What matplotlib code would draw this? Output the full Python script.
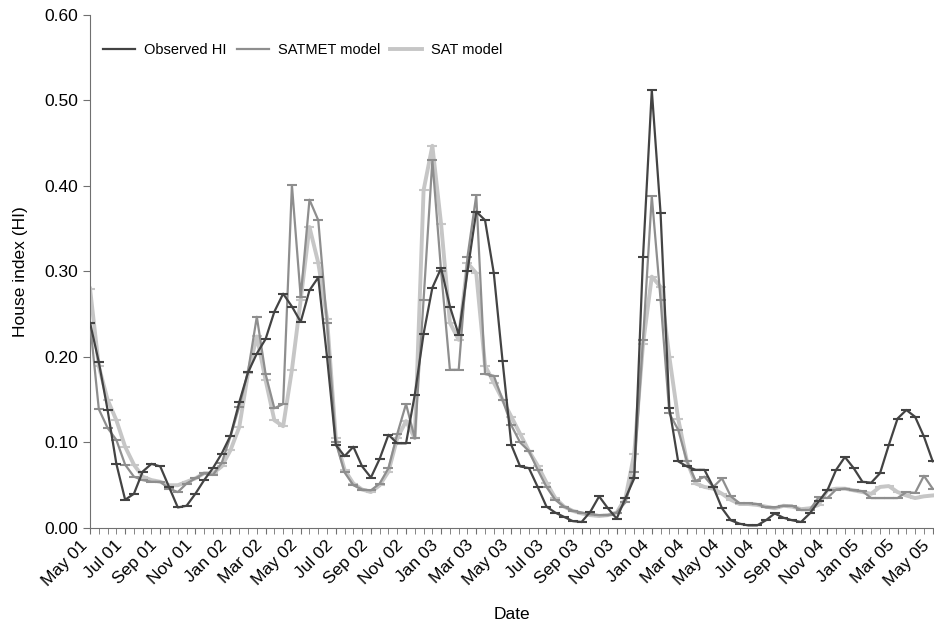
import numpy as np
import matplotlib.pyplot as plt

plt.rcParams['font.family'] = ['Liberation Sans', 'DejaVu Sans']

# tick labels, one every 4 half-month steps
date_labels = ['May 01', 'Jul 01', 'Sep 01', 'Nov 01', 'Jan 02', 'Mar 02', 'May 02',
               'Jul 02', 'Sep 02', 'Nov 02', 'Jan 03', 'Mar 03', 'May 03', 'Jul 03',
               'Sep 03', 'Nov 03', 'Jan 04', 'Mar 04', 'May 04', 'Jul 04', 'Sep 04',
               'Nov 04', 'Jan 05', 'Mar 05', 'May 05']

# semi-monthly values, May 01 .. May 05
observed = [0.240, 0.194, 0.138, 0.075, 0.033, 0.040, 0.066, 0.075, 0.072, 0.048,
            0.024, 0.026, 0.040, 0.056, 0.070, 0.087, 0.108, 0.147, 0.182, 0.204,
            0.221, 0.253, 0.274, 0.259, 0.241, 0.278, 0.293, 0.200, 0.097, 0.084,
            0.095, 0.072, 0.059, 0.081, 0.109, 0.099, 0.099, 0.156, 0.227, 0.281,
            0.304, 0.259, 0.226, 0.300, 0.370, 0.360, 0.298, 0.195, 0.097, 0.072,
            0.070, 0.048, 0.025, 0.018, 0.013, 0.008, 0.007, 0.019, 0.037, 0.023,
            0.011, 0.035, 0.058, 0.317, 0.512, 0.368, 0.140, 0.078, 0.072, 0.068,
            0.068, 0.048, 0.023, 0.009, 0.005, 0.003, 0.003, 0.009, 0.017, 0.012,
            0.009, 0.007, 0.017, 0.031, 0.044, 0.068, 0.083, 0.070, 0.054, 0.053,
            0.064, 0.097, 0.128, 0.138, 0.130, 0.107, 0.078]

satmet = [0.240, 0.139, 0.117, 0.103, 0.074, 0.060, 0.056, 0.054, 0.054, 0.046,
          0.042, 0.052, 0.058, 0.064, 0.062, 0.076, 0.107, 0.142, 0.183, 0.247,
          0.180, 0.140, 0.145, 0.401, 0.270, 0.384, 0.360, 0.240, 0.100, 0.065,
          0.050, 0.045, 0.044, 0.052, 0.070, 0.110, 0.145, 0.105, 0.267, 0.430,
          0.300, 0.185, 0.185, 0.317, 0.389, 0.180, 0.178, 0.150, 0.120, 0.100,
          0.090, 0.068, 0.048, 0.033, 0.025, 0.020, 0.018, 0.016, 0.015, 0.015,
          0.018, 0.030, 0.065, 0.220, 0.388, 0.267, 0.134, 0.115, 0.078, 0.055,
          0.060, 0.048, 0.058, 0.037, 0.029, 0.029, 0.028, 0.024, 0.024, 0.026,
          0.026, 0.021, 0.021, 0.036, 0.035, 0.045, 0.046, 0.044, 0.043, 0.035,
          0.035, 0.035, 0.035, 0.042, 0.041, 0.061, 0.046]

sat = [0.280, 0.189, 0.150, 0.126, 0.095, 0.074, 0.060, 0.056, 0.054, 0.050,
       0.050, 0.054, 0.058, 0.064, 0.064, 0.072, 0.091, 0.118, 0.181, 0.224,
       0.173, 0.126, 0.119, 0.185, 0.267, 0.352, 0.310, 0.245, 0.105, 0.068,
       0.052, 0.045, 0.042, 0.050, 0.066, 0.105, 0.125, 0.105, 0.395, 0.447,
       0.355, 0.240, 0.220, 0.310, 0.298, 0.190, 0.170, 0.150, 0.130, 0.110,
       0.090, 0.073, 0.053, 0.035, 0.025, 0.020, 0.017, 0.015, 0.014, 0.015,
       0.018, 0.035, 0.087, 0.215, 0.294, 0.282, 0.200, 0.128, 0.078, 0.052,
       0.048, 0.046, 0.040, 0.033, 0.028, 0.028, 0.027, 0.025, 0.023, 0.026,
       0.025, 0.022, 0.023, 0.027, 0.044, 0.046, 0.046, 0.044, 0.042, 0.040,
       0.048, 0.049, 0.042, 0.038, 0.035, 0.037, 0.038]

x = np.arange(len(observed))

fig = plt.figure(figsize=(9.34, 6.29), dpi=100)
ax = fig.add_axes([0.0964, 0.1606, 0.9036, 0.8156])

ax.plot(x, sat, color='#c6c6c6', lw=2.8, marker='_', ms=7, mew=1.5,
        label='SAT model', zorder=2)
ax.plot(x, satmet, color='#8e8e8e', lw=1.6, marker='_', ms=7, mew=1.5,
        label='SATMET model', zorder=3)
ax.plot(x, observed, color='#434343', lw=1.6, marker='_', ms=7, mew=1.5,
        label='Observed HI', zorder=4)

ax.set_xlim(0, 96.15)
ax.set_ylim(0, 0.6)
ax.set_yticks(np.arange(0, 0.61, 0.1))
ax.set_yticklabels([f'{v:.2f}' for v in np.arange(0, 0.61, 0.1)], fontsize=12.5)
ax.set_xticks(np.arange(0, 97, 4))
ax.set_xticks(np.arange(0, 97, 1), minor=True)
# anchoring on the bottom-right corner pulls the rotated labels left of their tick
ax.set_xticklabels(date_labels, rotation=45, ha='right', va='bottom',
                   rotation_mode='anchor', fontsize=12.5)
ax.tick_params(axis='x', which='major', pad=10)
ax.tick_params(axis='x', which='both', direction='out', length=4.5, color='#707070')
ax.tick_params(axis='y', direction='out', length=5, color='#707070')

for side in ['top', 'right']:
    ax.spines[side].set_visible(False)
for side in ['left', 'bottom']:
    ax.spines[side].set_color('#707070')

ax.set_xlabel('Date', fontsize=12.5, labelpad=13)
ax.set_ylabel('House index (HI)', fontsize=12.5, labelpad=12)

handles, labels = ax.get_legend_handles_labels()
leg = ax.legend(handles[::-1], labels[::-1], loc='upper left', ncol=3, frameon=False,
                fontsize=10.5, handlelength=2.2, handletextpad=0.6, columnspacing=0.7,
                bbox_to_anchor=(0.0, 0.97))
for h in leg.legend_handles:
    h.set_marker('')

fig.savefig('out.png', dpi=100)
